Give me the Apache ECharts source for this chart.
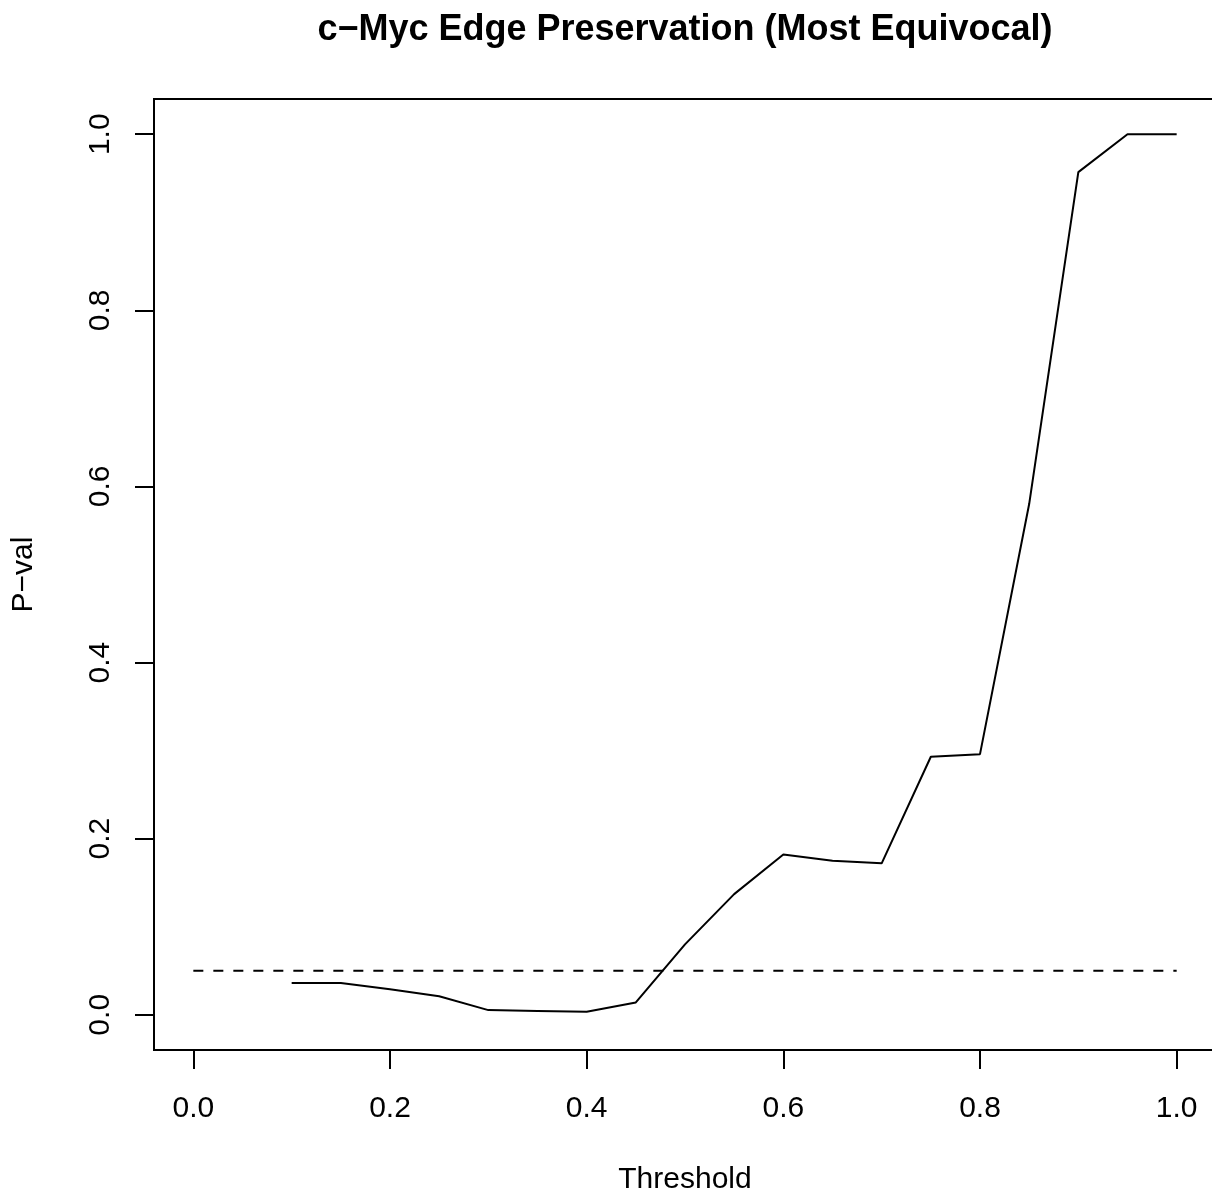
<!DOCTYPE html>
<html>
<head>
<meta charset="utf-8">
<title>c−Myc Edge Preservation</title>
<script src="https://cdn.jsdelivr.net/npm/echarts@6/dist/echarts.min.js"></script>
<style>
  html, body { margin: 0; padding: 0; background: #fff; }
  #chart { width: 1212px; height: 1200px; }
</style>
</head>
<body>
<div id="chart"></div>
<script>
// Edge-preservation p-values across correlation thresholds
const thresholds = [0.10, 0.15, 0.20, 0.25, 0.30, 0.35, 0.40, 0.45, 0.50, 0.55,
                    0.60, 0.65, 0.70, 0.75, 0.80, 0.85, 0.90, 0.95, 1.00];
const pValues = [0.036, 0.036, 0.029, 0.021, 0.0053, 0.0043, 0.0034, 0.014, 0.080, 0.137,
                 0.182, 0.175, 0.172, 0.293, 0.296, 0.580, 0.957, 1.000, 1.000];

// Significance cutoff drawn as a dashed reference line
const cutoff = 0.05;
const cutoffRange = [0, 1];

// Tick labels on both axes
const xTicks = [0, 0.2, 0.4, 0.6, 0.8, 1.0];
const yTicks = [0, 0.2, 0.4, 0.6, 0.8, 1.0];

const titleText = 'c−Myc Edge Preservation (Most Equivocal)';
const xName = 'Threshold';
const yName = 'P−val';

const FONT = '"Liberation Sans", Helvetica, Arial, sans-serif';

const chart = echarts.init(document.getElementById('chart'), null, { renderer: 'canvas' });

const axisCommon = {
  type: 'value',
  min: -0.04,
  max: 1.04,
  axisLine: { show: false, onZero: false },
  splitLine: { show: false },
  axisTick: {
    show: true,
    inside: false,
    length: 19,
    lineStyle: { color: '#000', width: 2 }
  },
  axisLabel: {
    show: true,
    color: '#000',
    fontFamily: FONT,
    fontSize: 30,
    formatter: v => v.toFixed(1)
  }
};

const option = {
  backgroundColor: '#fff',
  animation: false,
  grid: {
    left: 154,
    top: 99,
    width: 1062,
    height: 951,
    outerBoundsMode: 'none',
    containLabel: false,
    show: true,
    borderColor: '#000',
    borderWidth: 2,
    backgroundColor: 'transparent'
  },
  xAxis: Object.assign({}, axisCommon, {
    axisTick: Object.assign({}, axisCommon.axisTick, { customValues: xTicks }),
    axisLabel: Object.assign({}, axisCommon.axisLabel, { customValues: xTicks, margin: 44 })
  }),
  yAxis: Object.assign({}, axisCommon, {
    axisTick: Object.assign({}, axisCommon.axisTick, { customValues: yTicks }),
    axisLabel: Object.assign({}, axisCommon.axisLabel, { customValues: yTicks, margin: 38, rotate: 90 })
  }),
  graphic: [
    {
      type: 'text',
      x: 685, y: 30,
      style: {
        text: titleText,
        fill: '#000',
        font: 'bold 36px ' + FONT,
        align: 'center',
        verticalAlign: 'middle'
      }
    },
    {
      type: 'text',
      x: 685, y: 1180,
      style: {
        text: xName,
        fill: '#000',
        font: '30px ' + FONT,
        align: 'center',
        verticalAlign: 'middle'
      }
    },
    {
      type: 'text',
      x: 24, y: 574.5,
      rotation: Math.PI / 2,
      style: {
        text: yName,
        fill: '#000',
        font: '30px ' + FONT,
        align: 'center',
        verticalAlign: 'middle'
      }
    }
  ],
  series: [
    {
      type: 'line',
      data: thresholds.map((t, i) => [t, pValues[i]]),
      showSymbol: false,
      lineStyle: { color: '#000', width: 2 },
      silent: true
    },
    {
      type: 'line',
      data: cutoffRange.map(t => [t, cutoff]),
      showSymbol: false,
      lineStyle: { color: '#000', width: 2, type: [10, 10] },
      silent: true
    }
  ]
};

chart.setOption(option);
</script>
</body>
</html>
